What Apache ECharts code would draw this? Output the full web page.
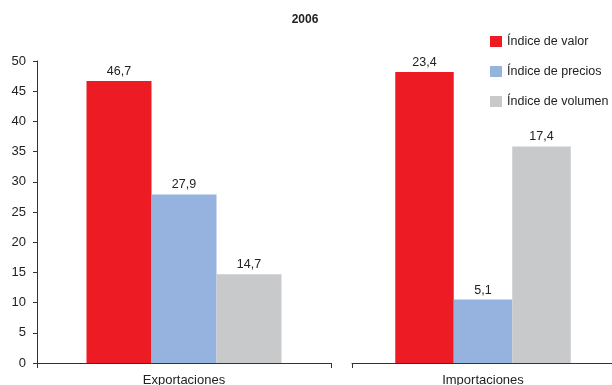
<!DOCTYPE html>
<html>
<head>
<meta charset="utf-8">
<script src="https://cdn.jsdelivr.net/npm/echarts@6/dist/echarts.min.js"></script>
<style>
  html, body { margin: 0; padding: 0; background: #fff; }
  #chart { width: 612px; height: 385px; }
</style>
</head>
<body>
<div id="chart"></div>
<script>
// Variación porcentual de los índices de comercio, 2006
const title = '2006';
const seriesNames = ['Índice de valor', 'Índice de precios', 'Índice de volumen'];
const exportCategory = ['Exportaciones'];
const importCategory = ['Importaciones'];
const exportValues = [46.7, 27.9, 14.7];
const importValues = [23.4, 5.1, 17.4];
const leftTicks = [0, 5, 10, 15, 20, 25, 30, 35, 40, 45, 50];

const colors = ['#ED1C24', '#95B3DE', '#C8C9CB'];
const font = 'Liberation Sans, Arial, sans-serif';
const fmt = v => String(v).replace('.', ',');

const chart = echarts.init(document.getElementById('chart'), null, { renderer: 'canvas' });

function barSeries(values, axisIndex, width) {
  return values.map((v, i) => ({
    name: seriesNames[i],
    type: 'bar',
    xAxisIndex: axisIndex,
    yAxisIndex: axisIndex,
    data: [v],
    barWidth: width,
    barGap: '0%',
    itemStyle: { color: colors[i] },
    label: {
      show: true,
      position: 'top',
      distance: 3,
      color: '#222',
      fontFamily: font,
      fontSize: 12.5,
      formatter: p => fmt(p.value)
    },
    animation: false
  }));
}

const xAxisCommon = {
  type: 'category',
  axisLine: { lineStyle: { color: '#333', width: 1 } },
  axisTick: { show: true, length: 5, inside: false, alignWithLabel: false, lineStyle: { color: '#333' } },
  axisLabel: { color: '#222', fontFamily: font, fontSize: 13, margin: 11 },
  splitLine: { show: false }
};

chart.setOption({
  animation: false,
  title: {
    text: title,
    left: 300,
    textAlign: 'center',
    top: 9,
    textStyle: { fontFamily: font, fontSize: 12, fontWeight: 'bold', color: '#222' }
  },
  legend: {
    data: seriesNames,
    orient: 'vertical',
    left: 485,
    top: 30,
    itemWidth: 12,
    itemHeight: 11,
    itemGap: 17,
    icon: 'rect',
    textStyle: { fontFamily: font, fontSize: 12.5, color: '#222' },
    selectedMode: false
  },
  grid: [
    { left: 37, top: 61, width: 294, bottom: 22, containLabel: false, outerBoundsMode: 'none' },
    { left: 352, top: 52, width: 262, bottom: 22, containLabel: false, outerBoundsMode: 'none' }
  ],
  xAxis: [
    Object.assign({ gridIndex: 0, data: exportCategory }, xAxisCommon),
    Object.assign({ gridIndex: 1, data: importCategory }, xAxisCommon)
  ],
  yAxis: [
    {
      gridIndex: 0,
      type: 'value',
      min: leftTicks[0],
      max: leftTicks[leftTicks.length - 1],
      interval: 5,
      axisLine: { show: true, lineStyle: { color: '#333' } },
      axisTick: { show: true, length: 4, lineStyle: { color: '#333' } },
      axisLabel: { color: '#222', fontFamily: font, fontSize: 13, margin: 11 },
      splitLine: { show: false }
    },
    {
      gridIndex: 1,
      type: 'value',
      min: 0,
      max: 25,
      show: false,
      splitLine: { show: false }
    }
  ],
  series: [
    ...barSeries(exportValues, 0, 65),
    ...barSeries(importValues, 1, 58.5)
  ]
});
</script>
</body>
</html>
